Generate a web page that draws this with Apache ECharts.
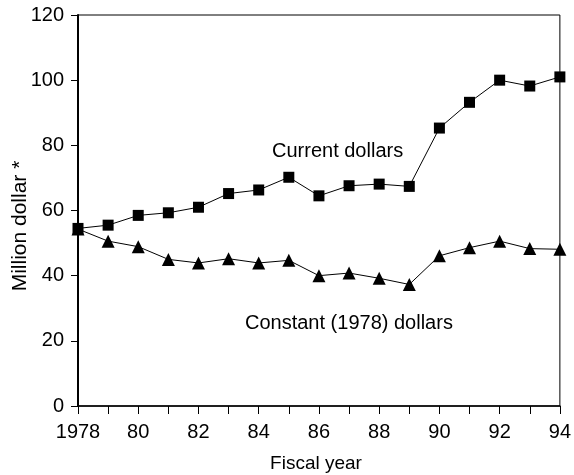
<!DOCTYPE html>
<html>
<head>
<meta charset="utf-8">
<script src="https://cdn.jsdelivr.net/npm/echarts@6/dist/echarts.min.js"></script>
<style>html,body{margin:0;padding:0;background:#fff}#c{width:574px;height:475px}</style>
</head>
<body>
<div id="c"></div>
<script>
const years = ['1978','1979','1980','1981','1982','1983','1984','1985','1986','1987','1988','1989','1990','1991','1992','1993','1994'];
const currentDollars = [54.5, 55.5, 58.5, 59.3, 61, 65.2, 66.3, 70.2, 64.5, 67.6, 68.1, 67.4, 85.3, 93.2, 100, 98.2, 101];
const constantDollars = [54.3, 50.6, 48.9, 45, 43.9, 45.2, 43.9, 44.7, 40, 40.8, 39.2, 37.3, 46.1, 48.6, 50.6, 48.3, 48.1];
const yTicks = [0, 20, 40, 60, 80, 100, 120];

const chart = echarts.init(document.getElementById('c'));
const font = 'Liberation Sans, Arial, sans-serif';
chart.setOption({
  animation: false,
  grid: { left: 78, right: 9, top: 15, bottom: 69, show: true, borderColor: '#000', borderWidth: 1, containLabel: false },
  xAxis: {
    type: 'category',
    data: years,
    boundaryGap: false,
    axisLine: { lineStyle: { color: '#000', width: 1.5 } },
    axisTick: { show: true, inside: false, length: 8, interval: 0, lineStyle: { color: '#000' } },
    axisLabel: {
      interval: 1, margin: 16, fontFamily: font, fontSize: 20, color: '#000',
      formatter: v => v === '1978' ? v : v.slice(2)
    },
    splitLine: { show: false }
  },
  yAxis: {
    type: 'value',
    min: yTicks[0], max: yTicks[yTicks.length - 1], interval: 20,
    axisLine: { show: true, lineStyle: { color: '#000', width: 2 } },
    axisTick: { show: true, inside: false, length: 7, lineStyle: { color: '#000' } },
    axisLabel: { margin: 14, fontFamily: font, fontSize: 20, color: '#000' },
    splitLine: { show: false }
  },
  series: [
    {
      type: 'line', data: currentDollars, symbol: 'rect', symbolSize: 11,
      lineStyle: { color: '#000', width: 1 }, itemStyle: { color: '#000' }
    },
    {
      type: 'line', data: constantDollars, symbol: 'triangle', symbolSize: 13,
      lineStyle: { color: '#000', width: 1 }, itemStyle: { color: '#000' }
    }
  ],
  graphic: [
    { type: 'text', left: 272, top: 141, style: { text: 'Current dollars', font: '20px ' + font, fill: '#000' } },
    { type: 'text', left: 245, top: 313, style: { text: 'Constant (1978) dollars', font: '20px ' + font, fill: '#000' } },
    { type: 'text', x: 316, y: 464, style: { text: 'Fiscal year', font: '19px ' + font, fill: '#000', align: 'center', verticalAlign: 'middle' } },
    { type: 'text', x: 20, y: 226, rotation: Math.PI / 2, style: { text: 'Million dollar *', font: '21px ' + font, fill: '#000', align: 'center', verticalAlign: 'middle' } }
  ]
});
</script>
</body>
</html>
